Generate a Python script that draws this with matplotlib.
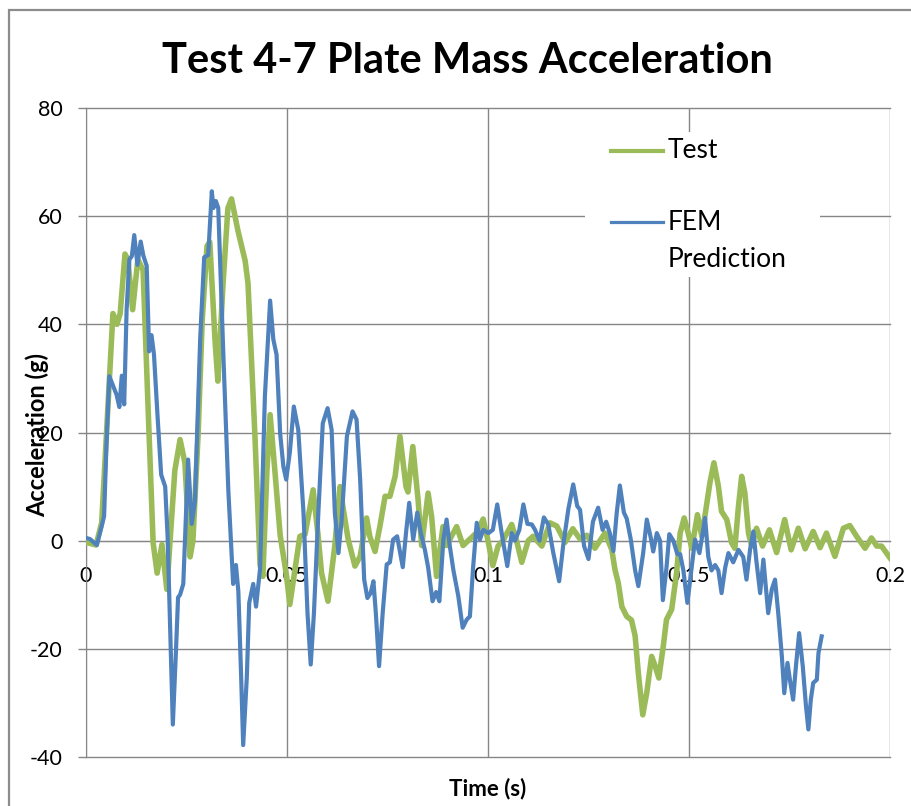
import matplotlib
matplotlib.use('Agg')
import matplotlib.pyplot as plt
from matplotlib.patches import Rectangle

plt.rcParams['font.family'] = ['Lato', 'DejaVu Sans']
plt.rcParams['axes.unicode_minus'] = False

test_time = [0.0, 0.0010, 0.0025, 0.0039, 0.0055, 0.0067, 0.0077, 0.0085, 0.0097, 0.0104,
             0.0116, 0.0129, 0.0142, 0.0154, 0.0167, 0.0177, 0.0189, 0.0201, 0.0221, 0.0234,
             0.0246, 0.0259, 0.0266, 0.0279, 0.0289, 0.0301, 0.0308, 0.0321, 0.0328, 0.0341,
             0.0353, 0.0362, 0.0378, 0.0396, 0.0403, 0.0420, 0.0433, 0.0440, 0.0450, 0.0458,
             0.0470, 0.0483, 0.0499, 0.0507, 0.0532, 0.0545, 0.0565, 0.0577, 0.0586, 0.0602,
             0.0619, 0.0632, 0.0639, 0.0652, 0.0669, 0.0682, 0.0698, 0.0706, 0.0719, 0.0731,
             0.0744, 0.0756, 0.0769, 0.0781, 0.0796, 0.0801, 0.0813, 0.0826, 0.0835, 0.0851,
             0.0860, 0.0872, 0.0888, 0.0897, 0.0922, 0.0938, 0.0955, 0.0972, 0.0988, 0.1000,
             0.1012, 0.1025, 0.1037, 0.1059, 0.1071, 0.1084, 0.1100, 0.1112, 0.1134, 0.1154,
             0.1171, 0.1192, 0.1211, 0.1229, 0.1246, 0.1266, 0.1291, 0.1308, 0.1316, 0.1324,
             0.1333, 0.1345, 0.1357, 0.1366, 0.1374, 0.1385, 0.1395, 0.1407, 0.1415, 0.1425,
             0.1436, 0.1444, 0.1457, 0.1469, 0.1478, 0.1488, 0.1498, 0.1507, 0.1521, 0.1532,
             0.1552, 0.1562, 0.1573, 0.1581, 0.1594, 0.1606, 0.1614, 0.1623, 0.1631, 0.1639,
             0.1648, 0.1656, 0.1668, 0.1683, 0.1700, 0.1718, 0.1738, 0.1754, 0.1772, 0.1789,
             0.1809, 0.1826, 0.1842, 0.1863, 0.1884, 0.1900, 0.1917, 0.1938, 0.1954, 0.1967,
             0.1979, 0.2000]
test_acc = [-0.3, -0.5, -0.8, 3.3, 25.5, 42.0, 40.0, 42.0, 53.0, 52.0,
            42.7, 52.0, 50.0, 25.5, -0.4, -6.0, -0.7, -9.0, 13.0, 18.7,
            14.4, -3.0, 0.0, 19.8, 40.6, 54.5, 55.2, 37.0, 29.5, 47.6,
            61.5, 63.2, 57.3, 51.7, 47.6, 19.8, -4.5, -6.6, 12.8, 23.3,
            12.8, 1.0, -6.6, -11.8, 0.8, 1.2, 9.4, 1.2, -6.0, -11.2,
            -0.9, 10.0, 6.3, 0.3, -4.7, -2.9, 4.2, 0.8, -2.0, 2.6,
            8.2, 8.2, 11.9, 19.3, 10.0, 9.0, 17.4, 7.6, -0.9, 8.8,
            4.3, -6.6, 2.6, -0.9, 2.6, -0.9, 0.3, 1.5, 4.0, 0.0,
            -4.6, -1.0, 0.0, 3.0, 0.0, -4.0, 0.0, 0.8, -1.0, 3.3,
            2.7, -0.3, 2.2, 0.3, 1.0, -1.4, 1.4, -1.7, -5.4, -7.8,
            -12.2, -14.0, -14.7, -17.6, -24.5, -32.2, -28.1, -21.4, -23.0, -25.4,
            -19.5, -14.6, -12.7, -6.0, 1.4, 4.2, 1.4, -1.4, 4.8, 0.8,
            10.7, 14.4, 10.1, 5.4, 3.9, -0.4, -1.4, 6.3, 11.9, 8.8,
            1.4, -1.0, 2.3, -1.0, 2.0, -2.2, 3.9, -1.7, 2.3, -1.5,
            1.7, -1.3, 1.4, -2.9, 2.3, 2.8, 0.8, -1.4, 0.5, -1.0,
            -1.0, -3.2]

# FEM prediction
fem_time = [0.0, 0.0010, 0.0027, 0.0035, 0.0045, 0.0051, 0.0058, 0.0068, 0.0076, 0.0083,
            0.0089, 0.0095, 0.0101, 0.0108, 0.0114, 0.0120, 0.0128, 0.0136, 0.0143, 0.0151,
            0.0157, 0.0163, 0.0169, 0.0178, 0.0187, 0.0197, 0.0203, 0.0209, 0.0216, 0.0224,
            0.0229, 0.0234, 0.0242, 0.0254, 0.0263, 0.0271, 0.0284, 0.0294, 0.0304, 0.0313,
            0.0317, 0.0323, 0.0329, 0.0342, 0.0354, 0.0366, 0.0373, 0.0379, 0.0386, 0.0391,
            0.0400, 0.0406, 0.0416, 0.0423, 0.0433, 0.0445, 0.0458, 0.0466, 0.0474, 0.0483,
            0.0491, 0.0498, 0.0507, 0.0517, 0.0528, 0.0541, 0.0551, 0.0559, 0.0567, 0.0578,
            0.0589, 0.0601, 0.0611, 0.0619, 0.0628, 0.0636, 0.0649, 0.0663, 0.0673, 0.0682,
            0.0692, 0.0700, 0.0708, 0.0715, 0.0721, 0.0729, 0.0738, 0.0748, 0.0756, 0.0764,
            0.0774, 0.0788, 0.0796, 0.0804, 0.0814, 0.0824, 0.0833, 0.0843, 0.0851, 0.0862,
            0.0871, 0.0879, 0.0889, 0.0897, 0.0905, 0.0914, 0.0926, 0.0937, 0.0947, 0.0955,
            0.0963, 0.0972, 0.0980, 0.0988, 0.1001, 0.1012, 0.1023, 0.1034, 0.1048, 0.1059,
            0.1067, 0.1078, 0.1088, 0.1098, 0.1109, 0.1117, 0.1128, 0.1139, 0.1150, 0.1162,
            0.1177, 0.1187, 0.1200, 0.1212, 0.1222, 0.1229, 0.1239, 0.1250, 0.1261, 0.1274,
            0.1285, 0.1294, 0.1303, 0.1312, 0.1320, 0.1328, 0.1338, 0.1345, 0.1355, 0.1366,
            0.1374, 0.1386, 0.1395, 0.1405, 0.1411, 0.1420, 0.1428, 0.1435, 0.1444, 0.1451,
            0.1461, 0.1471, 0.1478, 0.1486, 0.1496, 0.1507, 0.1515, 0.1526, 0.1540, 0.1548,
            0.1556, 0.1565, 0.1573, 0.1581, 0.1590, 0.1598, 0.1610, 0.1623, 0.1635, 0.1643,
            0.1652, 0.1660, 0.1668, 0.1677, 0.1685, 0.1697, 0.1706, 0.1714, 0.1722, 0.1731,
            0.1737, 0.1745, 0.1751, 0.1759, 0.1766, 0.1774, 0.1783, 0.1791, 0.1797, 0.1803,
            0.1809, 0.1818, 0.1822, 0.1830]
fem_acc = [0.5, 0.3, -0.8, 1.5, 4.5, 18.0, 30.4, 28.5, 27.0, 24.7,
           30.5, 25.2, 42.7, 52.0, 52.6, 56.5, 51.0, 55.3, 52.6, 50.8,
           35.0, 38.0, 34.5, 23.0, 12.2, 10.0, 0.8, -15.0, -34.0, -20.0,
           -10.5, -10.0, -8.0, 15.0, 3.1, 7.3, 37.2, 52.4, 52.8, 64.6,
           61.5, 62.8, 61.5, 33.7, 9.4, -8.0, -4.5, -9.4, -25.3, -37.8,
           -25.3, -11.5, -8.0, -12.2, -5.2, 26.7, 44.4, 37.2, 34.4, 19.8,
           13.7, 11.3, 16.3, 24.8, 20.5, 5.2, -13.4, -22.9, -13.4, 5.2,
           21.7, 24.5, 20.5, 5.2, -2.3, 3.9, 19.3, 23.9, 22.4, 11.3,
           -7.2, -10.6, -9.7, -7.5, -13.4, -23.2, -13.4, -4.4, -4.0, 0.2,
           0.8, -4.9, 1.4, 7.0, 0.2, 5.2, 1.4, -1.7, -4.9, -11.2,
           -9.5, -11.2, 0.2, 3.9, -1.0, -5.5, -10.2, -16.1, -14.6, -14.0,
           -4.9, 3.3, 0.2, 2.0, 1.4, 2.0, 6.7, 1.4, -4.7, 1.4,
           0.0, 2.0, 6.7, 3.1, 3.0, 2.0, 0.0, 4.3, 3.0, -2.1,
           -7.5, -0.9, 5.9, 10.4, 6.4, 5.7, -1.0, -3.4, 3.5, 6.1,
           2.0, 3.5, 1.4, -1.9, 5.0, 10.2, 5.2, 4.1, 0.3, -5.5,
           -8.4, -2.3, 3.9, 0.5, -2.0, 1.4, 0.0, -11.0, -5.0, 1.2,
           0.0, -2.5, -2.5, -5.5, -11.5, -4.7, 0.2, -2.3, 4.2, -3.0,
           -5.5, -4.5, -5.5, -9.7, -5.0, -2.3, -4.0, -1.7, -3.0, -7.2,
           -1.6, 1.7, -4.0, -9.7, -3.5, -13.4, -9.0, -7.2, -13.4, -21.4,
           -28.2, -22.6, -25.7, -29.4, -23.2, -17.1, -23.2, -30.6, -34.9, -29.4,
           -26.3, -25.7, -20.8, -17.7]

x_ticks = [0, 0.05, 0.1, 0.15, 0.2]
x_tick_labels = ['0', '0.05', '0.1', '0.15', '0.2']
y_ticks = [-40, -20, 0, 20, 40, 60, 80]

green = '#9BBB59'
blue = '#4F81BD'
grid_gray = '#868686'

fig = plt.figure(figsize=(9.12, 8.06), dpi=100)
ax = fig.add_axes([86 / 912, 1 - 757 / 806, 804 / 912, 649 / 806])

ax.plot(test_time, test_acc, color=green, linewidth=4.0, solid_joinstyle='round', zorder=3)
ax.plot(fem_time, fem_acc, color=blue, linewidth=3.0, solid_joinstyle='round', zorder=4)

ax.set_xlim(0, 0.2)
ax.set_ylim(-40, 80)
ax.set_xticks(x_ticks)
ax.set_xticklabels(x_tick_labels)
ax.set_yticks(y_ticks)

ax.grid(True, color=grid_gray, linewidth=1.0)
for gl in ax.get_xgridlines() + ax.get_ygridlines():
    gl.set_clip_on(False)
ax.set_axisbelow(True)

for side in ['top', 'right']:
    ax.spines[side].set_visible(False)
ax.spines['left'].set_color(grid_gray)
ax.spines['bottom'].set_color(grid_gray)
ax.spines['bottom'].set_position(('data', 0))

ax.tick_params(axis='x', length=0, pad=18, labelsize=15.5)
ax.tick_params(axis='y', length=6, width=1, color=grid_gray, pad=11, labelsize=15.5)

ax.set_title('Test 4-7 Plate Mass Acceleration', fontsize=30, fontweight='bold',
             pad=25, x=0.475)
ax.set_xlabel('Time (s)', fontsize=16, fontweight='bold')
ax.xaxis.set_label_coords(0.5, -0.032)
ax.set_ylabel('Acceleration (g)', fontsize=17, fontweight='bold')
ax.yaxis.set_label_coords(-0.046, 0.496)

# legend box, laid out like the Excel one
ax.add_patch(Rectangle((0.621, 0.74), 0.292, 0.223, transform=ax.transAxes,
                       facecolor='white', edgecolor='none', zorder=5))
ax.plot([0.653, 0.718], [0.934, 0.934], transform=ax.transAxes, color=green,
        linewidth=3.0, zorder=6)
ax.text(0.724, 0.934, 'Test', transform=ax.transAxes, fontsize=19, va='center', zorder=6)
ax.plot([0.653, 0.718], [0.824, 0.824], transform=ax.transAxes, color=blue,
        linewidth=2.3, zorder=6)
ax.text(0.724, 0.824, 'FEM', transform=ax.transAxes, fontsize=19, va='center', zorder=6)
ax.text(0.724, 0.766, 'Prediction', transform=ax.transAxes, fontsize=19, va='center', zorder=6)

# chart-area border
fig.add_artist(Rectangle((9 / 912, -0.05), 1.2, 1 - 10 / 806 + 0.05, transform=fig.transFigure,
                         facecolor='none', edgecolor='#8C8C8C', linewidth=1.6))

fig.savefig('out.png', dpi=100)
